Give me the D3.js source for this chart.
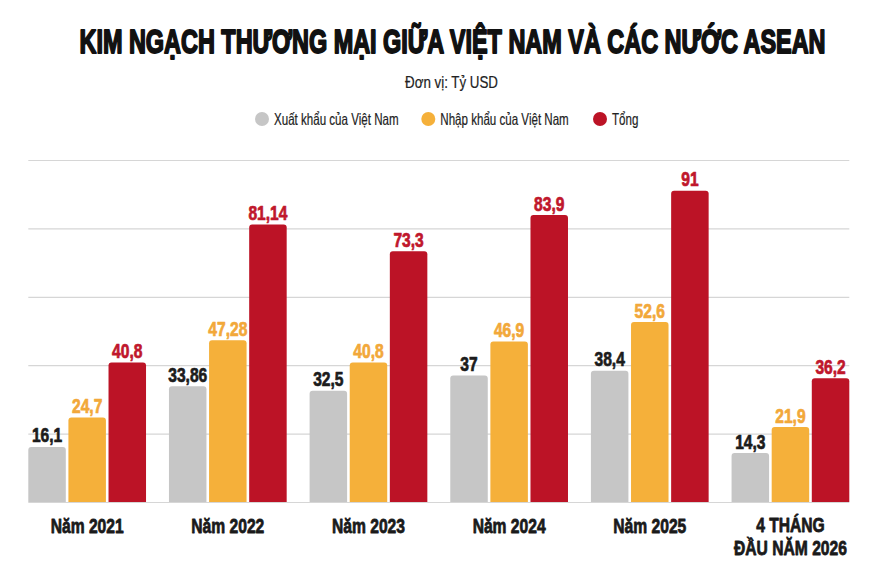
<!DOCTYPE html>
<html>
<head>
<meta charset="utf-8">
<script src="https://cdn.jsdelivr.net/npm/d3@7/dist/d3.min.js"></script>
<style>
  html, body { margin: 0; padding: 0; background: #ffffff; }
  svg { display: block; }
  text { font-family: "Liberation Sans Narrow", "Arial Narrow", "Liberation Sans", "DejaVu Sans Condensed", sans-serif; font-weight: bold; }
</style>
</head>
<body>
<svg id="chart" width="883" height="572"></svg>
<script>
// ---- data ----
const categories = ["Năm 2021", "Năm 2022", "Năm 2023", "Năm 2024", "Năm 2025", "4 THÁNG|ĐẦU NĂM 2026"];
const seriesNames = ["Xuất khẩu của Việt Nam", "Nhập khẩu của Việt Nam", "Tổng"];
const exportValues = [16.1, 33.86, 32.5, 37, 38.4, 14.3];
const importValues = [24.7, 47.28, 40.8, 46.9, 52.6, 21.9];
const totalValues = [40.8, 81.14, 73.3, 83.9, 91, 36.2];
const yTicks = [0, 20, 40, 60, 80, 100];
const titleText = "KIM NGẠCH THƯƠNG MẠI GIỮA VIỆT NAM VÀ CÁC NƯỚC ASEAN";
const subtitleText = "Đơn vị: Tỷ USD";

const barColors = ["#c6c6c6", "#f5b03a", "#bc1326"];
const labelColors = ["#1c1c1c", "#f2a83a", "#c0172c"];

const svg = d3.select("#chart");
const margin = { left: 28.3, right: 883 - 849.3, top: 160, bottom: 572 - 502 };
const width = 883, height = 572;

const x = d3.scaleBand().domain(categories).range([margin.left, width - margin.right]).paddingInner(0.163).paddingOuter(0);
const xs = d3.scaleBand().domain(seriesNames).range([0, x.bandwidth()]).paddingInner(0.065).paddingOuter(0);
const y = d3.scaleLinear().domain([0, 100]).range([502, 160]);

function condense(sel, refText, refWidth, fs) {
  const tmp = svg.append("text").attr("font-size", fs).text(refText);
  const nat = tmp.node().getComputedTextLength();
  tmp.remove();
  const k = refWidth / nat;
  sel.each(function () {
    const w = this.getComputedTextLength();
    d3.select(this).attr("textLength", w * k).attr("lengthAdjust", "spacingAndGlyphs");
  });
}

// title
svg.append("text")
  .attr("x", 452.5).attr("y", 52.5)
  .attr("text-anchor", "middle")
  .attr("font-size", 34)
  .attr("fill", "#111").attr("stroke", "#111").attr("stroke-width", 1.9)
  .attr("stroke-linejoin", "round")
  .text(titleText)
  .attr("textLength", 746).attr("lengthAdjust", "spacingAndGlyphs");

// subtitle
svg.append("text")
  .attr("x", 451.5).attr("y", 88)
  .attr("text-anchor", "middle")
  .attr("font-size", 16.5)
  .attr("fill", "#222").attr("stroke", "#222").attr("stroke-width", 0.2)
  .style("font-weight", "normal")
  .text(subtitleText)
  .attr("textLength", 93).attr("lengthAdjust", "spacingAndGlyphs");

// legend
const legendX = [262, 428.3, 600];
const li = svg.append("g").selectAll("g").data(seriesNames).join("g");
li.append("circle").attr("cx", (d, i) => legendX[i]).attr("cy", 119).attr("r", 7).attr("fill", (d, i) => barColors[i]);
const legText = li.append("text")
  .attr("x", (d, i) => legendX[i] + 12).attr("y", 124.5)
  .attr("font-size", 16.5)
  .style("font-weight", "normal")
  .attr("fill", "#222").attr("stroke", "#222").attr("stroke-width", 0.2)
  .text(d => d);
condense(legText, seriesNames[0], 131, 16.5);

// gridlines
const yAxis = d3.axisLeft(y).tickValues(yTicks).tickSize(-(x.range()[1] - x.range()[0])).tickFormat("");
const gy = svg.append("g").attr("transform", `translate(${x.range()[0]},0)`).call(yAxis);
gy.select(".domain").remove();
gy.selectAll(".tick line").attr("stroke", "#d6d6d6").attr("stroke-width", 1.2);

// bars
const seriesData = [exportValues, importValues, totalValues];
const rows = categories.map((c, i) => ({ cat: c, vals: seriesData.map((s, j) => ({ series: seriesNames[j], j, v: s[i] })) }));

function roundTopRect(x0, y0, w, h, r) {
  return `M${x0},${y0 + h}V${y0 + r}Q${x0},${y0} ${x0 + r},${y0}H${x0 + w - r}Q${x0 + w},${y0} ${x0 + w},${y0 + r}V${y0 + h}Z`;
}

const groups = svg.append("g").selectAll("g").data(rows).join("g")
  .attr("transform", d => `translate(${x(d.cat)},0)`);

groups.selectAll("path").data(d => d.vals).join("path")
  .attr("d", d => roundTopRect(xs(d.series), y(d.v), xs.bandwidth(), y(0) - y(d.v), 3))
  .attr("fill", d => barColors[d.j]);

const valLabels = groups.selectAll("text").data(d => d.vals).join("text")
  .attr("x", d => xs(d.series) + xs.bandwidth() / 2)
  .attr("y", d => y(d.v) - 4.5)
  .attr("text-anchor", "middle")
  .attr("font-size", 19.5)
  .attr("fill", d => labelColors[d.j])
  .attr("stroke", d => labelColors[d.j]).attr("stroke-width", 0.7)
  .attr("stroke-linejoin", "round")
  .text(d => String(d.v).replace(".", ","));
condense(valLabels, "81,14", 39, 19.5);

// x axis labels
const xAxis = d3.axisBottom(x).tickSize(0).tickFormat("");
const gx = svg.append("g").attr("transform", `translate(0,${y(0)})`).call(xAxis);
gx.select(".domain").remove();
const xl = gx.selectAll(".tick").append("text")
  .attr("text-anchor", "middle")
  .attr("font-size", 20.5)
  .attr("fill", "#1a1a1a")
  .attr("stroke", "#1a1a1a").attr("stroke-width", 0.8)
  .attr("stroke-linejoin", "round");
xl.each(function (d) {
  const parts = d.split("|");
  const t = d3.select(this);
  if (parts.length === 1) {
    t.append("tspan").attr("x", 0).attr("y", 31).text(parts[0]);
  } else {
    t.append("tspan").attr("x", 0).attr("y", 30).text(parts[0]);
    t.append("tspan").attr("x", 0).attr("y", 53).text(parts[1]);
  }
});
(function () {
  const tmp = svg.append("text").attr("font-size", 20.5).text("Năm 2021");
  const k = 73 / tmp.node().getComputedTextLength();
  tmp.remove();
  gx.selectAll("tspan").each(function () {
    const w = this.getComputedTextLength();
    d3.select(this).attr("textLength", w * k).attr("lengthAdjust", "spacingAndGlyphs");
  });
})();
</script>
</body>
</html>
